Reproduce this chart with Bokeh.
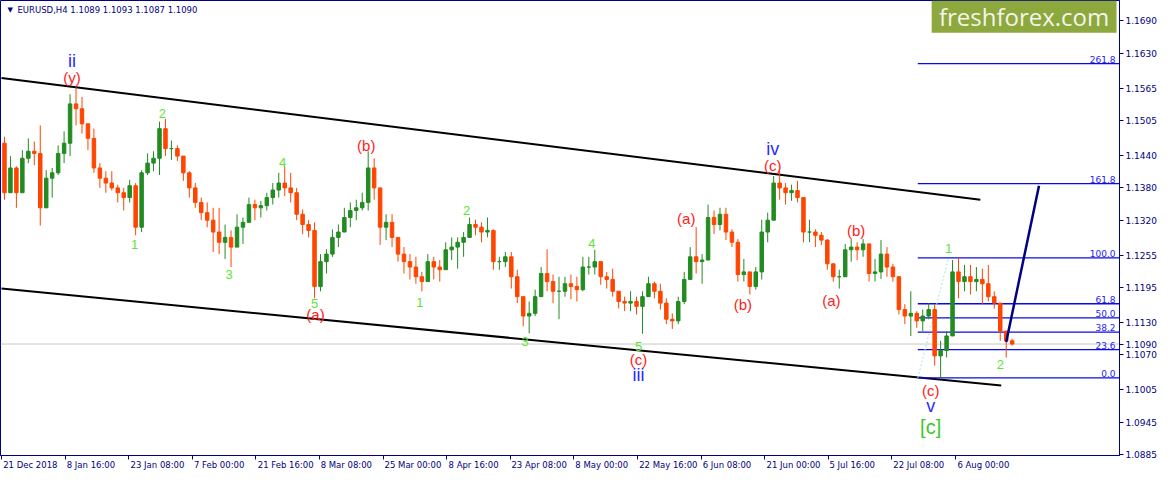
from bokeh.plotting import figure
from bokeh.models import (FixedTicker, LinearAxis, PrintfTickFormatter, Range1d,
                          Label, BoxAnnotation, Span, ColumnDataSource)
from bokeh.core.properties import value
from bokeh.embed import file_html
from bokeh.resources import INLINE

# ---------------- data (EURUSD, daily aggregates of H4 bars) ----------------
BARS_PER_CANDLE = 6
first_open = 1.1463
high = [1.1475, 1.1439, 1.1420, 1.1450, 1.1472, 1.1466, 1.1496, 1.1413, 1.1417, 1.1459,
        1.1485, 1.1554, 1.1567, 1.1549, 1.1499, 1.1490, 1.1426, 1.1411, 1.1411, 1.1386,
        1.1380, 1.1395, 1.1389, 1.1413, 1.1444, 1.1448, 1.1503, 1.1508, 1.1468, 1.1459,
        1.1439, 1.1411, 1.1389, 1.1362, 1.1353, 1.1343, 1.1343, 1.1312, 1.1301, 1.1331,
        1.1325, 1.1362, 1.1358, 1.1356, 1.1371, 1.1389, 1.1408, 1.1420, 1.1408, 1.1380,
        1.1340, 1.1320, 1.1316, 1.1257, 1.1266, 1.1303, 1.1312, 1.1343, 1.1353, 1.1358,
        1.1371, 1.1448, 1.1435, 1.1380, 1.1331, 1.1331, 1.1288, 1.1270, 1.1257, 1.1252,
        1.1224, 1.1257, 1.1252, 1.1246, 1.1279, 1.1288, 1.1288, 1.1298, 1.1325, 1.1321,
        1.1316, 1.1325, 1.1303, 1.1252, 1.1261, 1.1261, 1.1228, 1.1178, 1.1169, 1.1191,
        1.1233, 1.1266, 1.1219, 1.1215, 1.1215, 1.1219, 1.1215, 1.1252, 1.1252, 1.1265,
        1.1243, 1.1224, 1.1230, 1.1188, 1.1178, 1.1188, 1.1178, 1.1188, 1.1215, 1.1206,
        1.1202, 1.1175, 1.1147, 1.1178, 1.1224, 1.1270, 1.1307, 1.1257, 1.1349, 1.1338,
        1.1343, 1.1343, 1.1303, 1.1285, 1.1248, 1.1215, 1.1233, 1.1321, 1.1334, 1.1402,
        1.1411, 1.1389, 1.1386, 1.1393, 1.1362, 1.1321, 1.1303, 1.1298, 1.1285, 1.1239,
        1.1228, 1.1276, 1.1285, 1.1279, 1.1285, 1.1276, 1.1248, 1.1283, 1.1270, 1.1239,
        1.1215, 1.1164, 1.1188, 1.1151, 1.1154, 1.1166, 1.1164, 1.1096, 1.1114, 1.1246,
        1.1250, 1.1237, 1.1237, 1.1233, 1.1230, 1.1237, 1.1188, 1.1166, 1.1114, 1.1100]
low = [1.1358, 1.1371, 1.1343, 1.1371, 1.1426, 1.1422, 1.1310, 1.1343, 1.1362, 1.1404,
       1.1426, 1.1439, 1.1496, 1.1481, 1.1450, 1.1408, 1.1380, 1.1371, 1.1375, 1.1353,
       1.1338, 1.1353, 1.1292, 1.1298, 1.1404, 1.1411, 1.1404, 1.1439, 1.1432, 1.1430,
       1.1393, 1.1362, 1.1343, 1.1320, 1.1307, 1.1261, 1.1257, 1.1248, 1.1233, 1.1270,
       1.1276, 1.1316, 1.1320, 1.1325, 1.1338, 1.1349, 1.1362, 1.1365, 1.1353, 1.1320,
       1.1294, 1.1288, 1.1175, 1.1188, 1.1221, 1.1252, 1.1270, 1.1298, 1.1307, 1.1320,
       1.1338, 1.1338, 1.1358, 1.1274, 1.1283, 1.1270, 1.1243, 1.1221, 1.1210, 1.1202,
       1.1188, 1.1206, 1.1210, 1.1206, 1.1228, 1.1246, 1.1230, 1.1252, 1.1288, 1.1292,
       1.1279, 1.1288, 1.1228, 1.1228, 1.1233, 1.1193, 1.1166, 1.1123, 1.1110, 1.1142,
       1.1178, 1.1188, 1.1166, 1.1136, 1.1178, 1.1173, 1.1169, 1.1188, 1.1219, 1.1219,
       1.1200, 1.1193, 1.1178, 1.1156, 1.1151, 1.1151, 1.1145, 1.1109, 1.1178, 1.1175,
       1.1154, 1.1127, 1.1118, 1.1127, 1.1164, 1.1210, 1.1221, 1.1202, 1.1246, 1.1294,
       1.1301, 1.1283, 1.1270, 1.1206, 1.1206, 1.1182, 1.1191, 1.1210, 1.1279, 1.1320,
       1.1358, 1.1349, 1.1356, 1.1353, 1.1279, 1.1279, 1.1270, 1.1274, 1.1228, 1.1206,
       1.1193, 1.1215, 1.1243, 1.1246, 1.1252, 1.1206, 1.1206, 1.1211, 1.1215, 1.1206,
       1.1145, 1.1127, 1.1105, 1.1120, 1.1114, 1.1136, 1.1050, 1.1027, 1.1065, 1.1105,
       1.1175, 1.1188, 1.1182, 1.1188, 1.1164, 1.1169, 1.1156, 1.1096, 1.1065, 1.1087]
close = [1.1371, 1.1417, 1.1371, 1.1435, 1.1448, 1.1444, 1.1343, 1.1398, 1.1408, 1.1444,
         1.1463, 1.1536, 1.1527, 1.1499, 1.1472, 1.1417, 1.1398, 1.1389, 1.1380, 1.1371,
         1.1362, 1.1384, 1.1307, 1.1408, 1.1426, 1.1435, 1.1490, 1.1453, 1.1453, 1.1439,
         1.1408, 1.1380, 1.1353, 1.1334, 1.1320, 1.1298, 1.1279, 1.1288, 1.1270, 1.1307,
         1.1316, 1.1349, 1.1343, 1.1347, 1.1362, 1.1376, 1.1389, 1.1380, 1.1371, 1.1331,
         1.1312, 1.1301, 1.1197, 1.1243, 1.1257, 1.1288, 1.1298, 1.1325, 1.1338, 1.1343,
         1.1353, 1.1417, 1.1380, 1.1307, 1.1316, 1.1288, 1.1257, 1.1243, 1.1233, 1.1215,
         1.1206, 1.1243, 1.1233, 1.1228, 1.1265, 1.1270, 1.1279, 1.1288, 1.1312, 1.1307,
         1.1298, 1.1301, 1.1243, 1.1243, 1.1252, 1.1215, 1.1178, 1.1142, 1.1147, 1.1178,
         1.1221, 1.1206, 1.1188, 1.1188, 1.1202, 1.1197, 1.1191, 1.1233, 1.1233, 1.1243,
         1.1215, 1.1210, 1.1188, 1.1169, 1.1166, 1.1169, 1.1160, 1.1178, 1.1202, 1.1188,
         1.1166, 1.1136, 1.1133, 1.1169, 1.1210, 1.1252, 1.1243, 1.1246, 1.1325, 1.1312,
         1.1331, 1.1298, 1.1279, 1.1219, 1.1224, 1.1197, 1.1224, 1.1298, 1.1320, 1.1389,
         1.1380, 1.1371, 1.1375, 1.1362, 1.1298, 1.1298, 1.1292, 1.1283, 1.1239, 1.1215,
         1.1215, 1.1265, 1.1270, 1.1265, 1.1276, 1.1221, 1.1224, 1.1257, 1.1233, 1.1215,
         1.1154, 1.1142, 1.1147, 1.1133, 1.1142, 1.1154, 1.1068, 1.1078, 1.1105, 1.1224,
         1.1206, 1.1215, 1.1206, 1.1210, 1.1202, 1.1178, 1.1166, 1.1114, 1.1096, 1.1090]

date_tick_bars = [0, 64, 128, 192, 256, 320, 384, 448, 512, 576, 640, 704, 768, 832, 896, 960]
date_tick_labels = ["21 Dec 2018", "8 Jan 16:00", "23 Jan 08:00", "7 Feb 00:00",
                    "21 Feb 16:00", "8 Mar 08:00", "25 Mar 00:00", "8 Apr 16:00",
                    "23 Apr 08:00", "8 May 00:00", "22 May 16:00", "6 Jun 08:00",
                    "21 Jun 00:00", "5 Jul 16:00", "22 Jul 08:00", "6 Aug 00:00"]
price_ticks = [1.0885, 1.0945, 1.1005, 1.1070, 1.1090, 1.1130, 1.1195, 1.1255,
               1.1320, 1.1380, 1.1440, 1.1505, 1.1565, 1.1630, 1.1690]

fib_low, fib_high = 1.1027, 1.1250
fib_low_bar, fib_high_bar = 922, 953
fib_levels = [0.0, 23.6, 38.2, 50.0, 61.8, 100.0, 161.8, 261.8]

channel_upper_bars = [0, 985]
channel_upper_prices = [1.1584, 1.1358]
channel_lower_bars = [0, 1006]
channel_lower_prices = [1.1193, 1.1013]

projection_bars = [1011, 1044]
projection_prices = [1.1094, 1.1384]

bid_price = 1.1090
title_text = "EURUSD,H4  1.1089 1.1093 1.1087 1.1090"

wave_text = ["ii", "(y)", "2", "1", "3", "4", "5", "(a)", "(b)", "1", "2", "3", "4", "5",
             "(c)", "iii", "(a)", "(b)", "(c)", "iv", "(a)", "(b)", "(c)", "v", "[c]", "1", "2"]
wave_bar = [71, 71, 162, 134, 229, 283, 315, 316, 367, 421, 468, 527, 594, 641,
            641, 641, 689, 746, 776, 776, 835, 860, 935, 935, 935, 953, 1005]
wave_price = [1.1615, 1.1585, 1.1518, 1.1274, 1.1219, 1.1428, 1.1166, 1.1144, 1.1459,
              1.1167, 1.1338, 1.1094, 1.1276, 1.1085, 1.1061, 1.1032, 1.1323, 1.1164,
              1.1422, 1.1453, 1.1171, 1.1301, 1.1004, 1.0975, 1.0936, 1.1268, 1.1052]
wave_kind = ["roman", "paren", "digit", "digit", "digit", "digit", "digit", "paren", "paren",
             "digit", "digit", "digit", "digit", "digit", "paren", "roman", "paren", "paren",
             "paren", "roman", "paren", "paren", "paren", "roman", "bracket", "digit", "digit"]

# ---------------- styles ----------------
NAVY = "#000080"
UP = "#228B22"
DOWN = "#FF4500"
AX_FONT = "DejaVu Sans"
kind_color = {"roman": "#2A2AFF", "paren": "#FF1A1A", "digit": "#5CE632", "bracket": "#3CC82C"}
kind_size = {"roman": "18px", "paren": "15px", "digit": "13px", "bracket": "20px"}

X0, X1 = -1, 1125
Y0, Y1 = 1.0883, 1.1728

p = figure(width=1159, height=472, x_range=Range1d(X0, X1), y_range=Range1d(Y0, Y1),
           output_backend="svg", toolbar_location=None, x_axis_location=None,
           y_axis_location="right", min_border_left=0, min_border_top=0,
           min_border_right=0, min_border_bottom=0)
p.grid.visible = False
p.outline_line_color = NAVY
p.outline_line_width = 1
p.background_fill_color = "white"
p.border_fill_color = "white"

# right price axis (the last price 1.1090 is shown as an extra tick label)
ya = p.yaxis[0]
ya.ticker = FixedTicker(ticks=price_ticks)
ya.formatter = PrintfTickFormatter(format="%.4f")
ya.axis_line_color = NAVY
ya.major_tick_line_color = NAVY
ya.minor_tick_line_color = None
ya.major_tick_out = 4
ya.major_tick_in = 0
ya.major_label_standoff = 2
ya.major_label_text_color = NAVY
ya.major_label_text_font = AX_FONT
ya.major_label_text_font_size = "9px"

# bottom time axis: tick marks as minor ticks at the real positions,
# labels centred half a label-width to the right so that they start at the tick
char_w = {" ": 0.318, ":": 0.337, ".": 0.318}
for ch in "0123456789":
    char_w[ch] = 0.636
char_w.update({"D": 0.770, "J": 0.295, "F": 0.575, "M": 0.863, "A": 0.684,
               "a": 0.613, "b": 0.635, "c": 0.550, "e": 0.615, "g": 0.635, "l": 0.278,
               "n": 0.634, "p": 0.635, "r": 0.411, "u": 0.634, "y": 0.592})
lab_px = 8.5
px_per_bar = 1119.0 / (X1 - X0)
label_centres = []
overrides = {}
for b, lbl in zip(date_tick_bars, date_tick_labels):
    w = sum(char_w.get(ch, 0.6) for ch in lbl) * lab_px
    c = int(round(b + (w / 2.0 + 1.5) / px_per_bar))
    label_centres.append(c)
    overrides[c] = lbl
xa = LinearAxis(ticker=FixedTicker(ticks=label_centres, minor_ticks=date_tick_bars),
                axis_line_color=NAVY, major_tick_line_color=None,
                minor_tick_line_color=NAVY, minor_tick_out=4, minor_tick_in=0,
                major_tick_out=4, major_tick_in=0, major_label_standoff=0,
                major_label_overrides=overrides, major_label_text_color=NAVY,
                major_label_text_font=AX_FONT, major_label_text_font_size="8.5px")
p.add_layout(xa, "below")

# bid line
p.add_layout(Span(location=bid_price, dimension="width", line_color="#C8C8C8",
                  line_width=1, level="underlay"))

# logo
logo_bottom = 1.1668
p.add_layout(BoxAnnotation(left=936, right=1122, bottom=logo_bottom, top=Y1,
                           fill_color="#8DA83C", fill_alpha=1.0, line_color=None,
                           level="underlay"))
p.add_layout(Label(x=1029, y=(logo_bottom + Y1) / 2, text="freshforex.com",
                   text_align="center", text_baseline="middle", text_color="#F4F4EA",
                   text_font="Open Sans", text_font_size="24px"))

# channel
p.line(channel_upper_bars, channel_upper_prices, line_color="black", line_width=2)
p.line(channel_lower_bars, channel_lower_prices, line_color="black", line_width=2)

# fibonacci
fib_prices = [fib_low + (fib_high - fib_low) * lv / 100.0 for lv in fib_levels]
p.segment(x0=[fib_low_bar] * len(fib_prices), x1=[X1] * len(fib_prices),
          y0=fib_prices, y1=fib_prices, line_color="#0A0AE6", line_width=1.3)
p.text(x=[X1 - 4] * len(fib_prices), y=fib_prices, text=["%.1f" % lv for lv in fib_levels],
       text_align="right", text_baseline="bottom", text_color="#2424F0",
       text_font=value(AX_FONT), text_font_size="9px", y_offset=-1)
p.line([fib_low_bar, fib_high_bar], [fib_low, fib_high], line_color="#A8E4EC",
       line_width=1, line_dash="2 2")

# candles
n = len(close)
centres = [BARS_PER_CANDLE * k + BARS_PER_CANDLE / 2.0 for k in range(n)]
opens = [first_open] + close[:-1]
cols = [UP if c >= o else DOWN for o, c in zip(opens, close)]
src = ColumnDataSource(dict(x=centres, hi=high, lo=low,
                            top=[max(o, c) for o, c in zip(opens, close)],
                            bot=[min(o, c) for o, c in zip(opens, close)], col=cols))
p.segment(x0="x", y0="lo", x1="x", y1="hi", line_color="col", line_width=1, source=src)
p.vbar(x="x", width=3.5, top="top", bottom="bot", fill_color="col", line_color="col",
       line_width=1, source=src)

# projection
p.line(projection_bars, projection_prices, line_color=NAVY, line_width=2.5)

# wave labels
wsrc = ColumnDataSource(dict(x=wave_bar, y=wave_price, t=wave_text,
                             c=[kind_color[k] for k in wave_kind],
                             s=[kind_size[k] for k in wave_kind]))
p.text(x="x", y="y", text="t", text_color="c", text_font_size="s",
       text_font=value("Liberation Sans"), text_align="center", text_baseline="middle",
       source=wsrc)

# title
p.add_layout(Label(x=X0, y=Y1, x_offset=7, y_offset=-5, text="\u25bc", text_color=NAVY,
                   text_font="DejaVu Sans", text_font_size="7px", text_baseline="top"))
p.add_layout(Label(x=X0, y=Y1, x_offset=17, y_offset=-4, text=title_text, text_color=NAVY,
                   text_font=AX_FONT, text_font_size="8.5px", text_baseline="top"))

open("out.html", "w").write(file_html(p, INLINE))
